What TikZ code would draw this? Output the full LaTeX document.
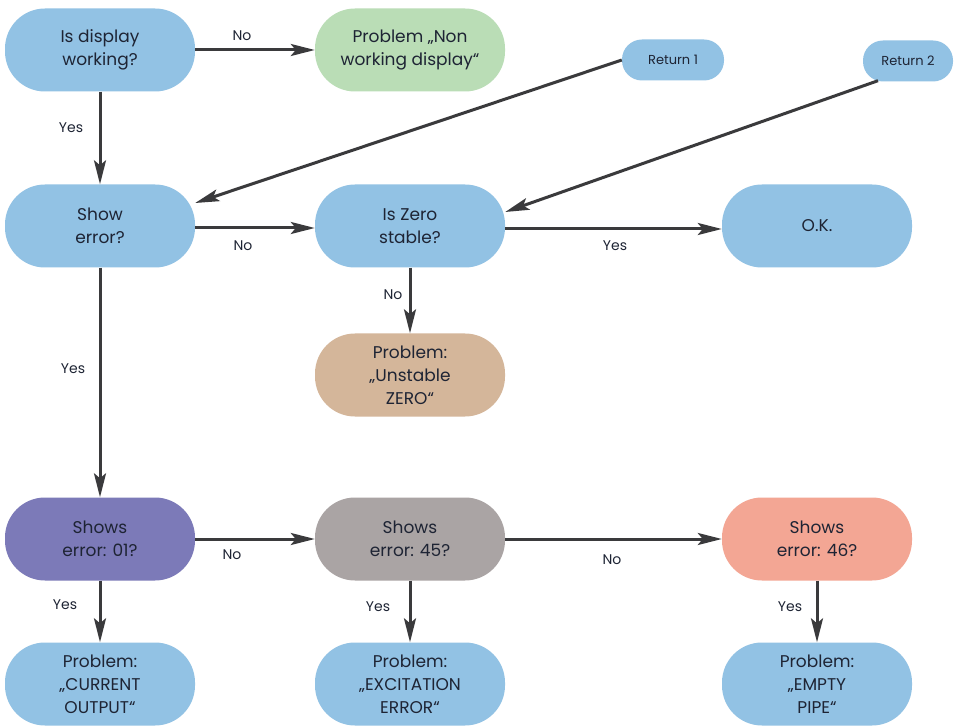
\documentclass[tikz,border=0pt]{standalone}
\usepackage{fontspec}
\setmainfont{Poppins}
\usetikzlibrary{arrows.meta}
\definecolor{boxblue}{RGB}{146,194,228}
\definecolor{boxgreen}{RGB}{186,221,182}
\definecolor{boxtan}{RGB}{212,182,154}
\definecolor{boxpurple}{RGB}{124,122,184}
\definecolor{boxgray}{RGB}{170,164,164}
\definecolor{boxsalmon}{RGB}{243,166,148}
\definecolor{inkdark}{RGB}{30,36,52}
\definecolor{wire}{RGB}{58,58,60}
\begin{document}
\begin{tikzpicture}[x=1pt,y=-1pt,
  pill/.style={rectangle, rounded corners=40pt, minimum width=190pt, minimum height=83pt,
    inner sep=0pt, align=center, text=inkdark, font=\fontsize{17}{23}\selectfont},
  smallpill/.style={rectangle, rounded corners=20pt, minimum height=41pt,
    inner sep=0pt, align=center, text=inkdark, font=\fontsize{13}{15}\selectfont},
  flow/.style={draw=wire, line width=3pt, -{Stealth[length=24pt,width=12pt,inset=5pt]}},
  lbl/.style={text=inkdark, font=\fontsize{14}{16}\selectfont, inner sep=1pt}]
\useasboundingbox (0,0) rectangle (956,727);
\fill[white] (0,0) rectangle (956,727);

% top row
\node[pill, fill=boxblue]  (disp)  at (100,50) {Is display\\working?};
\node[pill, fill=boxgreen] (nodisp) at (410,50) {Problem „Non\\working display“};
\node[smallpill, fill=boxblue, minimum width=102pt] (ret1) at (673,60) {Return 1};
\node[smallpill, fill=boxblue, minimum width=90pt]  (ret2) at (908,61) {Return 2};

% second row
\node[pill, fill=boxblue] (showerr) at (100,226) {Show\\error?};
\node[pill, fill=boxblue] (zero)    at (410,226) {Is Zero\\stable?};
\node[pill, fill=boxblue] (ok)      at (817,226) {O.K.};
\node[pill, fill=boxtan]  (unstab)  at (410,375) {Problem:\\„Unstable\\ZERO“};

% error code row
\node[pill, fill=boxpurple] (e01) at (100,539) {Shows\\error: 01?};
\node[pill, fill=boxgray]   (e45) at (410,539) {Shows\\error: 45?};
\node[pill, fill=boxsalmon] (e46) at (817,539) {Shows\\error: 46?};

% diagnosis row
\node[pill, fill=boxblue] (pcur) at (100,684) {Problem:\\„CURRENT\\OUTPUT“};
\node[pill, fill=boxblue] (pexc) at (410,684) {Problem:\\„EXCITATION\\ERROR“};
\node[pill, fill=boxblue] (pemp) at (817,684) {Problem:\\„EMPTY\\PIPE“};

% connectors
\draw[flow] (disp.east) -- (nodisp.west);
\draw[flow] (disp.south) -- (showerr.north);
\draw[flow] (ret1.west) -- ([yshift=23pt]showerr.east);
\draw[flow] ([xshift=-30pt,yshift=1pt]ret2.south) -- ([yshift=14pt]zero.east);
\draw[flow] ([yshift=-2pt]showerr.east) -- ([yshift=-2pt]zero.west);
\draw[flow] ([yshift=-3pt]zero.east) -- ([yshift=-3pt]ok.west);
\draw[flow] (zero.south) -- (unstab.north);
\draw[flow] (showerr.south) -- (e01.north);
\draw[flow] (e01.east) -- (e45.west);
\draw[flow] (e45.east) -- (e46.west);
\draw[flow] (e01.south) -- (pcur.north);
\draw[flow] (e45.south) -- (pexc.north);
\draw[flow] (e46.south) -- (pemp.north);

% branch labels
\node[lbl] (l1) at (242,36) {No};
\node[lbl] (l2) at (71,128) {Yes};
\node[lbl] (l3) at (243,246) {No};
\node[lbl] (l4) at (615,246) {Yes};
\node[lbl] (l5) at (393,295) {No};
\node[lbl] (l6) at (73,369) {Yes};
\node[lbl] (l7) at (232,555) {No};
\node[lbl] (l8) at (612,560) {No};
\node[lbl] (l9) at (65,605) {Yes};
\node[lbl] (l10) at (378,607) {Yes};
\node[lbl] (l11) at (790,607) {Yes};
\end{tikzpicture}
\end{document}
